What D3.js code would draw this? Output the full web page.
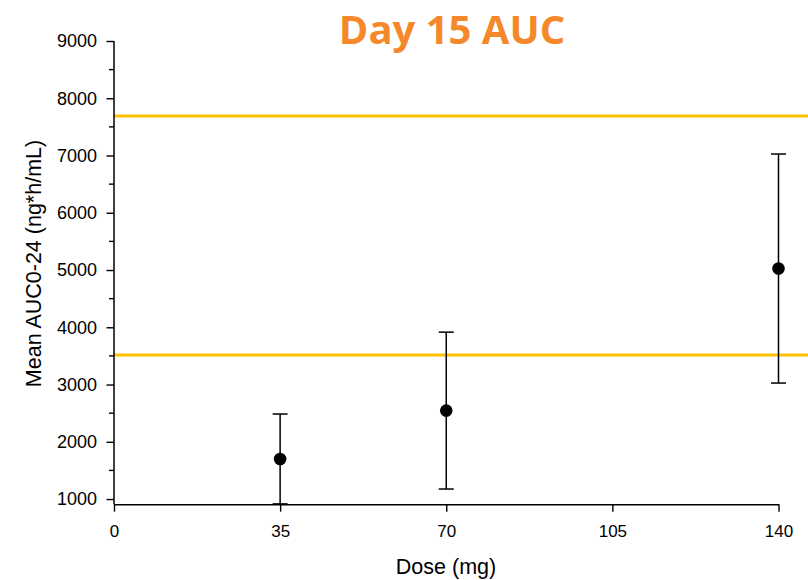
<!DOCTYPE html>
<html>
<head>
<meta charset="utf-8">
<script src="https://cdn.jsdelivr.net/npm/d3@7"></script>
<style>
  html, body { margin: 0; padding: 0; background: #fff; }
  svg { display: block; }
</style>
</head>
<body>
<svg id="chart" width="808" height="580"></svg>
<script>
// ---- data ----
const doses = [35, 70, 140];
const meanAUC = [1700, 2545, 5026];
const sdAUC = [785, 1370, 2000];
const refLines = [7690, 3515];
const xTicks = [0, 35, 70, 105, 140];
const yMajorTicks = [1000, 2000, 3000, 4000, 5000, 6000, 7000, 8000, 9000];
const yMinorTicks = [1500, 2500, 3500, 4500, 5500, 6500, 7500, 8500];
const chartTitle = "Day 15 AUC";
const xTitle = "Dose (mg)";
const yTitle = "Mean AUC0-24 (ng*h/mL)";

(function () {
// ---- layout ----
const svg = d3.select("#chart");
const mLeft = 114, mRight = 778.5, mTop = 41, mBottom = 504.2;
const x = d3.scaleLinear().domain([0, 140]).range([mLeft, mRight]);
const y = d3.scaleLinear().domain([910, 9000]).range([mBottom, mTop]);
const font = "'Liberation Sans', Arial, sans-serif";

// title
svg.append("text")
  .attr("x", 452).attr("y", 44)
  .attr("text-anchor", "middle")
  .attr("font-family", "'Open Sans', sans-serif")
  .attr("font-weight", 700)
  .attr("font-size", 40)
  .attr("fill", "#F5882A")
  .text(chartTitle);

// reference lines
svg.append("g").selectAll("line").data(refLines).join("line")
  .attr("x1", mLeft).attr("x2", 808)
  .attr("y1", d => y(d)).attr("y2", d => y(d))
  .attr("stroke", "#FFC000").attr("stroke-width", 3);

// y axis
const yAxis = svg.append("g").attr("transform", `translate(${mLeft},0)`)
  .call(d3.axisLeft(y).tickValues(yMajorTicks).tickFormat(d3.format("d"))
    .tickSize(7.5).tickPadding(9.5).tickSizeOuter(0));
yAxis.select(".domain").remove();
yAxis.selectAll(".tick line").attr("stroke", "#000").attr("stroke-width", 1.4);
yAxis.selectAll(".tick text").attr("font-family", font).attr("font-size", 18).attr("fill", "#000");
svg.append("g").selectAll("line").data(yMinorTicks).join("line")
  .attr("x1", mLeft - 5).attr("x2", mLeft)
  .attr("y1", d => y(d)).attr("y2", d => y(d))
  .attr("stroke", "#000").attr("stroke-width", 1.4);
svg.append("line")
  .attr("x1", mLeft).attr("x2", mLeft)
  .attr("y1", y(9000)).attr("y2", mBottom)
  .attr("stroke", "#000").attr("stroke-width", 1.5);

// x axis
const xAxis = svg.append("g").attr("transform", `translate(0,${mBottom})`)
  .call(d3.axisBottom(x).tickValues(xTicks).tickFormat(d3.format("d"))
    .tickSize(7.5).tickPadding(13).tickSizeOuter(0));
xAxis.select(".domain").attr("stroke", "#000").attr("stroke-width", 1.5);
xAxis.selectAll(".tick line").attr("stroke", "#000").attr("stroke-width", 1.4);
xAxis.selectAll(".tick text").attr("font-family", font).attr("font-size", 17).attr("fill", "#000");

// axis titles
svg.append("text")
  .attr("x", 446).attr("y", 574)
  .attr("text-anchor", "middle")
  .attr("font-family", font).attr("font-size", 21.5).attr("fill", "#000")
  .text(xTitle);
svg.append("text")
  .attr("transform", "translate(41,263.5) rotate(-90)")
  .attr("text-anchor", "middle")
  .attr("font-family", font).attr("font-size", 21.5).attr("fill", "#000")
  .text(yTitle);

// error bars
const pts = doses.map((d, i) => ({ dose: d, mean: meanAUC[i], sd: sdAUC[i] }));
const eb = svg.append("g").attr("stroke", "#000").attr("stroke-width", 1.5);
eb.selectAll("line.v").data(pts).join("line").attr("class", "v")
  .attr("x1", d => x(d.dose)).attr("x2", d => x(d.dose))
  .attr("y1", d => y(d.mean + d.sd)).attr("y2", d => y(d.mean - d.sd));
eb.selectAll("line.capu").data(pts).join("line").attr("class", "capu")
  .attr("x1", d => x(d.dose) - 7.5).attr("x2", d => x(d.dose) + 7.5)
  .attr("y1", d => y(d.mean + d.sd)).attr("y2", d => y(d.mean + d.sd));
eb.selectAll("line.capl").data(pts).join("line").attr("class", "capl")
  .attr("x1", d => x(d.dose) - 7.5).attr("x2", d => x(d.dose) + 7.5)
  .attr("y1", d => y(d.mean - d.sd)).attr("y2", d => y(d.mean - d.sd));

// points
svg.append("g").selectAll("circle").data(pts).join("circle")
  .attr("cx", d => x(d.dose)).attr("cy", d => y(d.mean))
  .attr("r", 6.3).attr("fill", "#000");
})();
</script>
</body>
</html>
